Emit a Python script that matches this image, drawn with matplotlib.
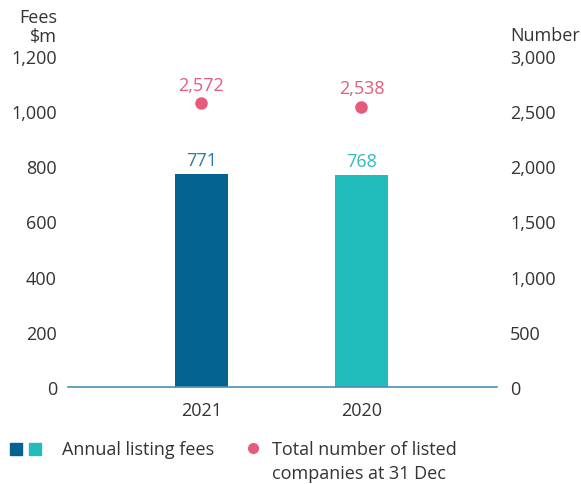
import numpy as np
import matplotlib.pyplot as plt

plt.rcParams['font.family'] = ['Open Sans', 'DejaVu Sans']

# Data
years = ['2021', '2020']
fees = [771, 768]
companies = [2572, 2538]
bar_colors = ['#03628f', '#20bdbc']
label_colors = ['#2a7ba6', '#2fbcc0']
pink = '#e55c7b'
text_col = '#333333'
FS = 13

fig = plt.figure(figsize=(5.81, 4.85), dpi=100)
ax = fig.add_axes([68 / 581, 97 / 485, (497 - 68) / 581, (428 - 97) / 485])
ax2 = ax.twinx()

x = np.arange(len(years))
ax.bar(x, fees, width=0.33, color=bar_colors, zorder=2)
for xi, v, c in zip(x, fees, label_colors):
    ax.annotate(f'{v:,}', (xi, v), xytext=(0, 4), textcoords='offset points',
                ha='center', va='bottom', color=c, fontsize=FS)

ax2.plot(x, companies, 'o', color=pink, markersize=8, zorder=3)
for xi, v in zip(x, companies):
    ax2.annotate(f'{v:,}', (xi, v), xytext=(0, 7), textcoords='offset points',
                 ha='center', va='bottom', color=pink, fontsize=FS)

ax.set_xlim(-0.834, 1.847)
ax.set_ylim(0, 1200)
ax2.set_ylim(0, 3000)
ax.set_yticks(range(0, 1201, 200))
ax2.set_yticks(range(0, 3001, 500))
ax.set_yticklabels([f'{v:,}' for v in range(0, 1201, 200)])
ax2.set_yticklabels([f'{v:,}' for v in range(0, 3001, 500)])
ax.set_xticks(x)
ax.set_xticklabels(years)

for a in (ax, ax2):
    for s in a.spines.values():
        s.set_visible(False)
    a.tick_params(length=0, labelsize=FS, labelcolor=text_col)
ax.spines['bottom'].set_visible(True)
ax.spines['bottom'].set_color('#4a90b8')
ax.spines['bottom'].set_linewidth(1.2)
ax.tick_params(axis='y', pad=8)
ax2.tick_params(axis='y', pad=9.5)
ax.tick_params(axis='x', pad=10)

fig.text(57 / 581, 1 - 18 / 485, 'Fees', ha='right', va='center', fontsize=FS, color=text_col)
fig.text(57 / 581, 1 - 37 / 485, '$m', ha='right', va='center', fontsize=FS, color=text_col)
fig.text(510 / 581, 1 - 36 / 485, 'Number', ha='left', va='center', fontsize=FS, color=text_col)

# legend drawn by hand
for xx, c in zip([10, 29], bar_colors):
    fig.patches.append(plt.Rectangle((xx / 581, 1 - 456 / 485), 12 / 581, 12 / 485,
                                     transform=fig.transFigure, color=c))
fig.text(62 / 581, 1 - 450 / 485, 'Annual listing fees', ha='left', va='center',
         fontsize=FS, color=text_col)
fig.lines.append(plt.Line2D([253 / 581], [1 - 449 / 485], marker='o', color=pink,
                            markersize=7, transform=fig.transFigure))
fig.text(272 / 581, 1 - 450 / 485, 'Total number of listed', ha='left', va='center',
         fontsize=FS, color=text_col)
fig.text(272 / 581, 1 - 474 / 485, 'companies at 31 Dec', ha='left', va='center',
         fontsize=FS, color=text_col)

fig.savefig('out.png', dpi=100)
